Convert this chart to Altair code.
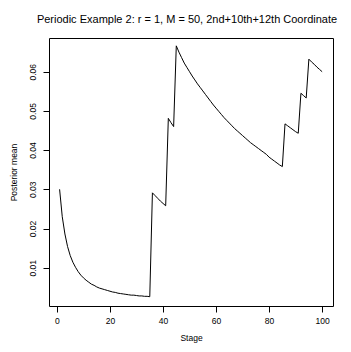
import altair as alt
import pandas as pd

stages = list(range(1, 101))
posterior_mean = [
    0.0300, 0.0230, 0.0186, 0.0154, 0.0131, 0.0114, 0.0101, 0.0090, 0.0081, 0.0074,
    0.0068, 0.0063, 0.0058, 0.0055, 0.0051, 0.0048, 0.0046, 0.0044, 0.0042, 0.0040,
    0.0038, 0.0037, 0.0035, 0.0034, 0.0033, 0.0032, 0.0031, 0.0030, 0.0030, 0.0029,
    0.0028, 0.0028, 0.0027, 0.0027, 0.0026,
    0.0291, 0.0284, 0.0277, 0.0270, 0.0264, 0.0258,
    0.0481, 0.0470, 0.0460,
    0.0666, 0.0650, 0.0636, 0.0622, 0.0611, 0.0600, 0.0589, 0.0579, 0.0569, 0.0560,
    0.0551, 0.0542, 0.0533, 0.0524, 0.0515, 0.0507, 0.0499, 0.0491, 0.0483, 0.0476,
    0.0469, 0.0462, 0.0455, 0.0449, 0.0443, 0.0437, 0.0431, 0.0425, 0.0419, 0.0414,
    0.0409, 0.0404, 0.0399, 0.0394, 0.0389, 0.0382, 0.0377, 0.0372, 0.0367, 0.0362,
    0.0358,
    0.0467, 0.0462, 0.0457, 0.0452, 0.0447, 0.0443,
    0.0545, 0.0539, 0.0533,
    0.0632, 0.0625, 0.0619, 0.0612, 0.0606, 0.0600,
]
x_ticks = [0, 20, 40, 60, 80, 100]
y_ticks = [0.01, 0.02, 0.03, 0.04, 0.05, 0.06]

df = pd.DataFrame({"Stage": stages, "Posterior mean": posterior_mean})

FONT = "Liberation Sans"

chart = (
    alt.Chart(df)
    .mark_line(color="black", strokeWidth=1)
    .encode(
        x=alt.X(
            "Stage:Q",
            scale=alt.Scale(domain=[-3.0, 104.1], nice=False, zero=False),
            axis=alt.Axis(
                values=x_ticks,
                format="d",
                title="Stage",
                domain=False,
                grid=False,
                tickColor="black",
                tickSize=6,
                labelPadding=4,
                labelFontSize=8.5,
                labelColor="black",
                labelFont=FONT,
                titleFontSize=8.5,
                titleFont=FONT,
                titleFontWeight="normal",
                titleColor="black",
                titlePadding=9,
            ),
        ),
        y=alt.Y(
            "Posterior mean:Q",
            scale=alt.Scale(domain=[0.00023, 0.0686], nice=False, zero=False),
            axis=alt.Axis(
                values=y_ticks,
                format=".2f",
                title="Posterior mean",
                domain=False,
                grid=False,
                tickColor="black",
                tickSize=6,
                labelAngle=270,
                labelAlign="center",
                labelBaseline="bottom",
                labelPadding=6,
                labelFontSize=8.5,
                labelColor="black",
                labelFont=FONT,
                titleFontSize=8.5,
                titleFont=FONT,
                titleFontWeight="normal",
                titleColor="black",
                titlePadding=10,
            ),
        ),
    )
    .properties(
        width=284,
        height=268,
        title=alt.TitleParams(
            "Periodic Example 2: r = 1, M = 50, 2nd+10th+12th Coordinate",
            font=FONT,
            fontSize=11.0,
            fontWeight="normal",
            color="black",
            anchor="middle",
            offset=13,
            dx=-4,
        ),
        autosize=alt.AutoSizeParams(type="none"),
        padding={"left": 41, "top": 30, "right": 10, "bottom": 38},
    )
    .configure_view(stroke="black", strokeWidth=1)
)

chart.save("out.html", embed_options={"renderer": "svg", "actions": False})
